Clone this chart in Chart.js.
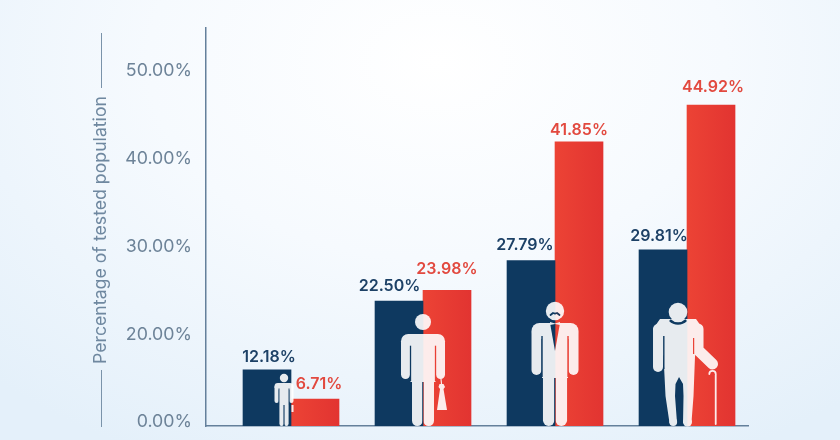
<!DOCTYPE html>
<html>
<head>
<meta charset="utf-8">
<title>Percentage of tested population</title>
<script src="https://cdn.jsdelivr.net/npm/chart.js@4/dist/chart.umd.js"></script>
<style>
  html, body { margin: 0; padding: 0; width: 840px; height: 440px; overflow: hidden; }
  body { background: radial-gradient(ellipse 640px 440px at 52% 14%, #ffffff 0%, #f6fafe 45%, #e4f0fa 100%); }
  canvas { display: block; }
</style>
</head>
<body>
<canvas id="myChart" width="840" height="440"></canvas>
<script>
const ageGroups = ["Children", "Adults", "Middle age", "Seniors"];
const navyValues = [12.18, 22.50, 27.79, 29.81];
const redValues = [6.71, 23.98, 41.85, 44.92];
const tickLabels = ["0.00%", "20.00%", "30.00%", "40.00%", "50.00%"];
const axisTitle = "Percentage of tested population";

const NAVY = "#0e3960";
const AXIS = "#64809b";

// the value axis is not linear, height grows faster at the top
const scaleValues = [0, 5, 10, 15, 20, 25, 28, 30, 40, 45, 52];
const scaleHeights = [0, 18, 44, 72, 107, 143, 167, 177, 262, 322, 398];

class WarpedScale extends Chart.LinearScale {
  static id = "warped";
  static defaults = Chart.LinearScale.defaults;
  getPixelForValue(value) {
    let i = 1;
    while (i < scaleValues.length - 1 && value > scaleValues[i]) i++;
    const t = (value - scaleValues[i - 1]) / (scaleValues[i] - scaleValues[i - 1]);
    return this.bottom - (scaleHeights[i - 1] + t * (scaleHeights[i] - scaleHeights[i - 1]));
  }
}
Chart.register(WarpedScale);

// label offsets from the top of each bar, dx and dy
const navyLabelShift = [[2, -13], [-9.5, -15], [-6, -15], [-4, -14]];
const redLabelShift = [[4, -15], [0, -21], [0, -12], [2, -18]];

const valueLabels = {
  id: "valueLabels",
  afterDatasetsDraw(chart) {
    const ctx = chart.ctx;
    ctx.save();
    ctx.font = "600 16px Inter";
    ctx.textAlign = "center";
    ctx.textBaseline = "middle";
    [[0, navyValues, navyLabelShift, "#1d4166"], [1, redValues, redLabelShift, "#e2493f"]].forEach(([d, vals, shift, color]) => {
      ctx.fillStyle = color;
      chart.getDatasetMeta(d).data.forEach((bar, i) => {
        ctx.fillText(vals[i].toFixed(2) + "%", bar.x + shift[i][0], bar.y + shift[i][1]);
      });
    });
    ctx.restore();
  },
};

// rotated axis caption with thin rules above and below it
const axisCaption = {
  id: "axisCaption",
  afterDraw(chart) {
    const ctx = chart.ctx;
    ctx.save();
    ctx.strokeStyle = "#7a93aa";
    ctx.lineWidth = 1;
    ctx.beginPath();
    ctx.moveTo(101.5, 33);
    ctx.lineTo(101.5, 88);
    ctx.moveTo(101.5, 370);
    ctx.lineTo(101.5, 427);
    ctx.stroke();
    ctx.translate(100.5, 230);
    ctx.rotate(-Math.PI / 2);
    ctx.fillStyle = "#6f88a0";
    ctx.font = "17.7px Inter";
    ctx.textAlign = "center";
    ctx.textBaseline = "middle";
    ctx.fillText(axisTitle, 0, 0);
    ctx.restore();
  },
};

function limb(g, width, points) {
  g.lineWidth = width;
  g.beginPath();
  points.forEach((p, i) => (i ? g.lineTo(p[0], p[1]) : g.moveTo(p[0], p[1])));
  g.stroke();
}

function poly(g, points) {
  g.beginPath();
  points.forEach((p, i) => (i ? g.lineTo(p[0], p[1]) : g.moveTo(p[0], p[1])));
  g.closePath();
  g.fill();
}

function cut(g, fn) {
  g.globalCompositeOperation = "destination-out";
  fn();
  g.globalCompositeOperation = "source-over";
}

// standing person, origin at the feet, y goes up as negative
function person(g, p) {
  g.beginPath();
  g.arc(0, p.headY, p.headR, 0, Math.PI * 2);
  g.fill();
  g.beginPath();
  g.roundRect(-p.half, p.top, p.half * 2, p.armW * 1.6, p.armW * 0.9);
  g.fill();
  g.fillRect(-p.torso, p.top, p.torso * 2, p.hip - p.top);
  limb(g, p.armW, [[-p.half + p.armW / 2, p.top + p.armW], [-p.half + p.armW / 2, p.armEnd - p.armW / 2]]);
  limb(g, p.armW, [[p.half - p.armW / 2, p.top + p.armW], [p.half - p.armW / 2, p.armEnd - p.armW / 2]]);
  limb(g, p.legW, [[-p.legX, p.hip - 4], [-p.legX, -p.legW / 2]]);
  limb(g, p.legW, [[p.legX, p.hip - 4], [p.legX, -p.legW / 2]]);
  cut(g, () => {
    g.lineCap = "butt";
    limb(g, p.gap, [[0, p.hip], [0, 0]]);
    limb(g, p.gap, [[-p.torso, p.top + p.armW * 1.3], [-p.torso, p.armEnd + 2]]);
    limb(g, p.gap, [[p.torso, p.top + p.armW * 1.3], [p.torso, p.armEnd + 2]]);
    g.lineCap = "round";
  });
}

function drawChild(g) {
  person(g, { headY: -48, headR: 4.2, top: -43, half: 9.5, armW: 4.2, armEnd: -23, torso: 5, hip: -21, legX: 2.4, legW: 4.4, gap: 0.9 });
  g.fillRect(7.5, -21, 2, 7);
}

function drawAdult(g) {
  person(g, { headY: -104, headR: 8, top: -92, half: 22, armW: 9, armEnd: -47, torso: 12.5, hip: -44, legX: 5.7, legW: 10.6, gap: 1.3 });
  limb(g, 1.2, [[18, -47], [18.5, -42]]);
  poly(g, [[16.5, -42], [20.5, -42], [22, -39], [20.5, -37], [24, -16], [14, -16], [17, -37], [15.5, -39]]);
}

function drawMiddleAge(g) {
  person(g, { headY: -115, headR: 9.2, top: -103, half: 23.5, armW: 10, armEnd: -51, torso: 13, hip: -48, legX: 6.3, legW: 11.5, gap: 1.4 });
  cut(g, () => poly(g, [[-5, -103], [5, -103], [0, -75]]));
  poly(g, [[-5, -104], [0, -102.5], [5, -104], [5, -101], [0, -102], [-5, -101]]);
  g.strokeStyle = NAVY;
  limb(g, 1.8, [[-4.5, -111], [-2, -113], [0, -112.4], [2, -113], [4.5, -111]]);
  g.strokeStyle = "#fff";
}

function drawSenior(g) {
  g.beginPath();
  g.arc(0, -114, 9.3, 0, Math.PI * 2);
  g.fill();
  limb(g, 10, [[-20, -97], [-20, -59]]);
  limb(g, 11, [[20, -97], [20, -76], [34.5, -62]]);
  poly(g, [[-25, -97], [-18, -107], [18, -107], [25, -97], [17, -70], [15.5, -30], [13.5, -4], [5, -3], [5.5, -30], [5, -42], [1, -49], [-2.5, -42], [-3, -30], [-1, -3], [-8.5, -3], [-12.5, -30], [-14.5, -70]]);
  g.beginPath();
  g.arc(-4.8, -4, 3.9, 0, Math.PI * 2);
  g.fill();
  g.beginPath();
  g.arc(9.5, -4, 4.5, 0, Math.PI * 2);
  g.fill();
  cut(g, () => {
    g.lineCap = "butt";
    limb(g, 1.4, [[-14.2, -90], [-14.2, -57]]);
    limb(g, 1.2, [[15.6, -88], [15.6, -72]]);
    g.beginPath();
    g.arc(0, -114, 11.5, 0.25 * Math.PI, 0.75 * Math.PI);
    g.lineWidth = 2.4;
    g.stroke();
    g.lineCap = "round";
  });
  limb(g, 1.8, [[37.7, -51], [37.7, -2]]);
  g.beginPath();
  g.arc(34.5, -52, 3.2, Math.PI, 0);
  g.lineWidth = 1.8;
  g.stroke();
}

// the four figures stand in front of the bars, slightly see-through
const figureDrawers = [[drawChild, -7], [drawAdult, 0], [drawMiddleAge, 0], [drawSenior, -9]];
const figures = {
  id: "figures",
  afterDatasetsDraw(chart) {
    const layer = document.createElement("canvas");
    layer.width = chart.width;
    layer.height = chart.height;
    const g = layer.getContext("2d");
    g.fillStyle = "#fff";
    g.strokeStyle = "#fff";
    g.lineCap = "round";
    g.lineJoin = "round";
    figureDrawers.forEach(([draw, dx], i) => {
      g.save();
      g.translate(chart.scales.x.getPixelForValue(i) + dx, chart.chartArea.bottom);
      draw(g);
      g.restore();
    });
    chart.ctx.save();
    chart.ctx.globalAlpha = 0.9;
    chart.ctx.drawImage(layer, 0, 0);
    chart.ctx.restore();
  },
};

function redGradient(context) {
  const chart = context.chart;
  const x = chart.scales.x.getPixelForValue(context.dataIndex);
  if (!Number.isFinite(x)) return "#e83b33";
  const g = chart.ctx.createLinearGradient(x, 0, x + 48, 0);
  g.addColorStop(0, "#ec4335");
  g.addColorStop(1, "#e23431");
  return g;
}

new Chart(document.getElementById("myChart"), {
  type: "bar",
  data: {
    datasets: [
      { label: "Navy", data: navyValues.map((v, i) => ({ x: i, y: v, group: ageGroups[i] })), backgroundColor: NAVY, barThickness: 48, yAxisID: "y" },
      { label: "Red", data: redValues.map((v, i) => ({ x: i, y: v, group: ageGroups[i] })), backgroundColor: redGradient, barThickness: 48, yAxisID: "y" },
    ],
  },
  plugins: [figures, valueLabels, axisCaption],
  options: {
    responsive: false,
    animation: false,
    layout: { padding: { top: 28, right: 92, bottom: 14, left: 0 } },
    plugins: { legend: { display: false }, tooltip: { enabled: false } },
    scales: {
      x: {
        type: "linear",
        offset: false,
        min: -0.644,
        max: 3.462,
        afterFit: (scale) => {
          scale.height = 0;
        },
        grid: { display: false, drawTicks: false },
        border: { display: true, color: AXIS, width: 1.5 },
        ticks: { display: false },
      },
      y: {
        type: "warped",
        display: false,
        min: 0,
        max: 52,
      },
      // tick labels sit on an evenly spaced axis of their own
      yTicks: {
        type: "linear",
        axis: "y",
        position: "left",
        min: -0.0456,
        max: 4.49,
        afterBuildTicks: (scale) => {
          scale.ticks = tickLabels.map((label, i) => ({ value: i }));
        },
        afterFit: (scale) => {
          scale.width = 206;
          scale.paddingTop = 0;
          scale.paddingBottom = 0;
        },
        grid: { display: false, drawTicks: false },
        border: { display: true, color: AXIS, width: 1.5 },
        ticks: {
          padding: 14,
          color: "#6d8398",
          font: { family: "Inter", size: 17.8 },
          callback: (value) => tickLabels[value],
        },
      },
    },
  },
});
</script>
</body>
</html>
